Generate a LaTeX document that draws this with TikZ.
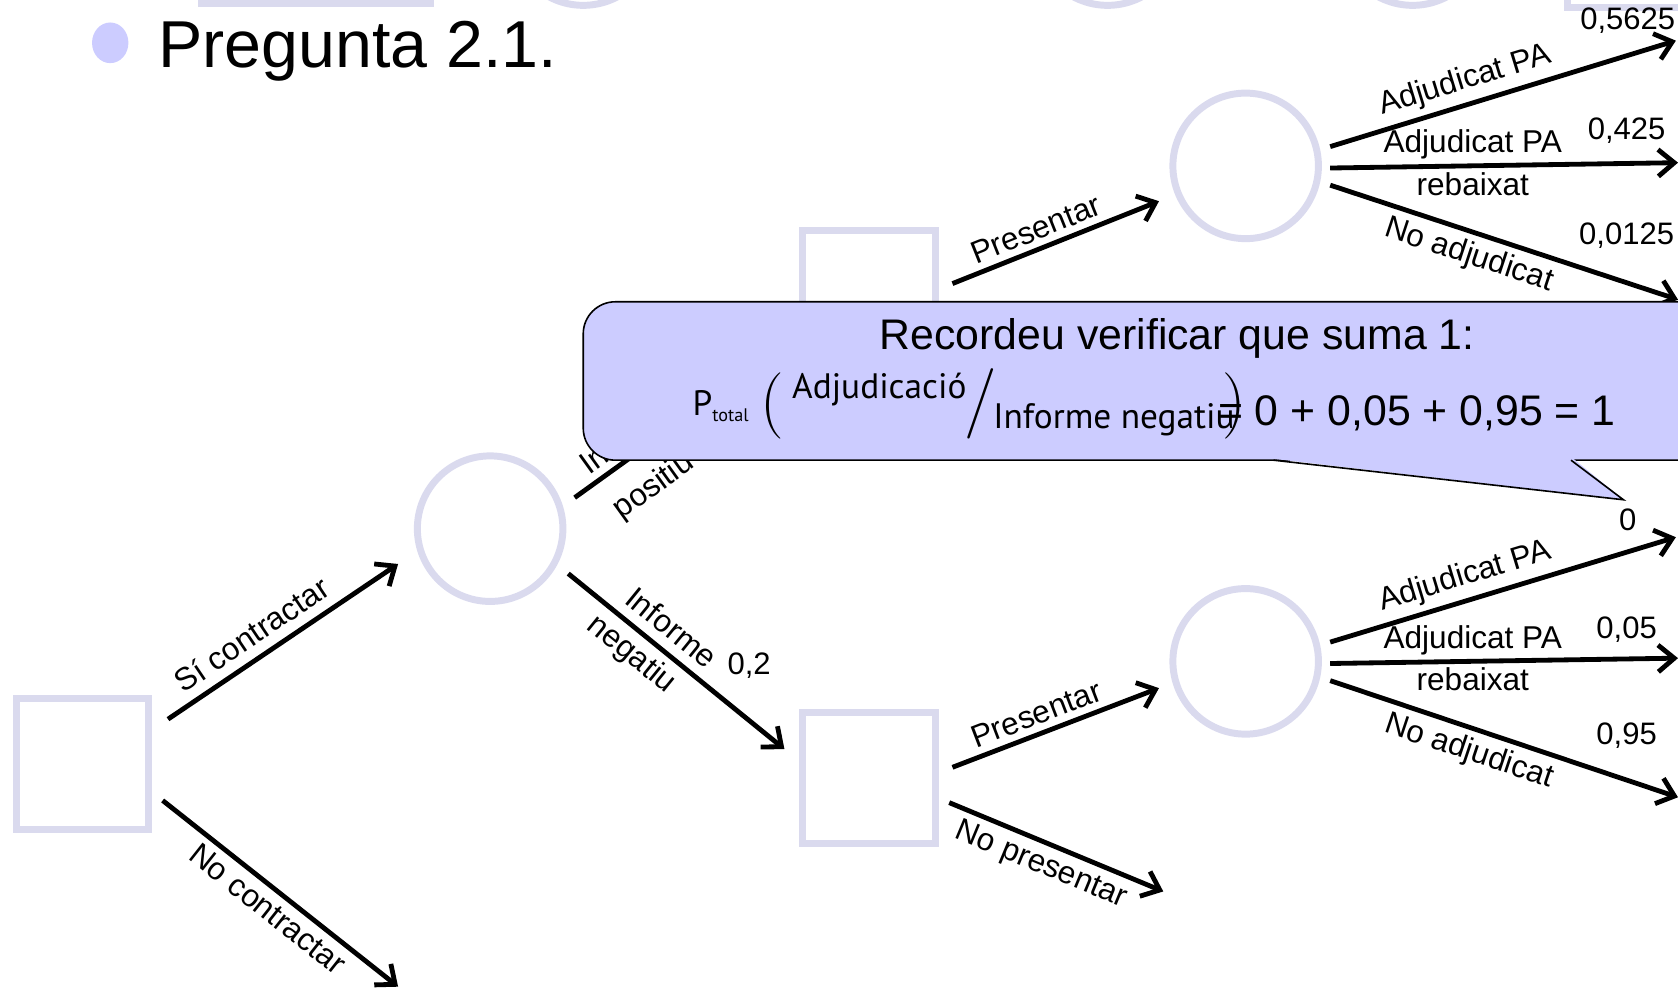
\documentclass[tikz,border=0pt]{standalone}
\usepackage{fontspec}
\setmainfont{Liberation Sans}
\newfontfamily\eqfont{PT Sans}
\newfontfamily\lmfont{Latin Modern Roman}
\usetikzlibrary{arrows.meta,shapes.geometric}
\definecolor{shapec}{RGB}{218,218,238}
\definecolor{bulletc}{RGB}{204,204,255}
\definecolor{calloutc}{RGB}{204,204,255}
\begin{document}
\begin{tikzpicture}[x=1bp,y=-1bp,
  dec/.style={draw=shapec, line width=6.5bp, minimum width=124bp, minimum height=122bp, inner sep=0pt},
  chance/.style={draw=shapec, circle, line width=6.5bp, minimum size=136bp, inner sep=0pt},
  br/.style={line width=4.5bp, -{Straight Barb[length=15bp,width=25bp]}},
  lab/.style={font=\fontsize{29.5bp}{33bp}\selectfont, inner sep=6bp},
  num/.style={font=\fontsize{29bp}{33bp}\selectfont, inner sep=0pt},
  eq/.style={font=\eqfont\fontsize{33bp}{36bp}\selectfont, inner sep=0pt, anchor=base west},
  paren/.style={font=\lmfont\fontsize{62bp}{62bp}\selectfont, inner sep=0pt},
]
\useasboundingbox (0,0) rectangle (1568,927);

% cut-off shapes at the top edge
\node[draw=shapec, line width=6.5bp, minimum width=214bp, minimum height=100bp, inner sep=0pt] (topA) at (295,-47) {};
\node[chance] (topB) at (545,-63) {};
\node[chance] (topC) at (1035,-63) {};
\node[chance] (topD) at (1320,-63) {};
\node[draw=shapec, line width=6.5bp, minimum width=140bp, minimum height=100bp, inner sep=0pt] (topE) at (1535,-43) {};

% title
\node[ellipse, fill=bulletc, minimum width=34bp, minimum height=38bp, inner sep=0pt] (bullet) at (103,40) {};
\node[anchor=base west, inner sep=0pt, font=\fontsize{62bp}{68bp}\selectfont] (title) at (148,63) {Pregunta 2.1.};

% tree nodes
\node[dec] (r0) at (77,714) {};
\node[chance] (c1) at (458,494) {};
\node[dec] (d2) at (812,276) {};
\node[dec] (d3) at (812,727) {};
\node[chance] (c2) at (1164,155) {};
\node[chance] (c3) at (1164,618) {};

% connector ends
\coordinate (sc-s) at (157,672);  \coordinate (sc-e) at (372,527);
\coordinate (nc-s) at (152,748);  \coordinate (nc-e) at (372,922);
\coordinate (ip-s) at (537,465);  \coordinate (ip-e) at (736,322);
\coordinate (in-s) at (531,536);  \coordinate (in-e) at (733,700);
\coordinate (p2-s) at (890,265);  \coordinate (p2-e) at (1083,188);
\coordinate (p3-s) at (890,717);  \coordinate (p3-e) at (1083,643);
\coordinate (np3-s) at (887,750); \coordinate (np3-e) at (1087,833);
\coordinate (a1-s) at (1243,137); \coordinate (a1-e) at (1566,38);
\coordinate (b1-s) at (1243,157); \coordinate (b1-e) at (1568,152);
\coordinate (n1-s) at (1243,173); \coordinate (n1-e) at (1568,280);
\coordinate (a2-s) at (1243,600); \coordinate (a2-e) at (1566,502);
\coordinate (b2-s) at (1243,620); \coordinate (b2-e) at (1568,615);
\coordinate (n2-s) at (1243,636); \coordinate (n2-e) at (1568,745);

% connectors
\draw[br] (sc-s) -- node[lab, pos=0.42, above, sloped, inner sep=9bp] {Sí contractar} (sc-e);
\draw[br] (nc-s) -- node[lab, pos=0.5, below, sloped] {No contractar} (nc-e);
\draw[br] (ip-s) -- node[lab, pos=0.3, above, sloped] {Informe} node[lab, pos=0.27, below, sloped, inner sep=19bp] {positiu} (ip-e);
\draw[br] (in-s) -- node[lab, pos=0.41, above, sloped, inner sep=9bp] {Informe} node[lab, pos=0.36, below, sloped] {negatiu} (in-e);
\draw[br] (p2-s) -- node[lab, pos=0.44, above, sloped] {Presentar} (p2-e);
\draw[br] (p3-s) -- node[lab, pos=0.44, above, sloped] {Presentar} (p3-e);
\draw[br] (np3-s) -- node[lab, pos=0.47, below, sloped] {No presentar} (np3-e);
\draw[br] (a1-s) -- node[lab, pos=0.41, above, sloped] {Adjudicat PA} (a1-e);
\draw[br] (b1-s) -- node[lab, pos=0.41, above, inner sep=4bp] {Adjudicat PA} node[lab, pos=0.41, below, inner sep=4bp] {rebaixat} (b1-e);
\draw[br] (n1-s) -- node[lab, pos=0.42, below, sloped] {No adjudicat} (n1-e);
\draw[br] (a2-s) -- node[lab, pos=0.41, above, sloped] {Adjudicat PA} (a2-e);
\draw[br] (b2-s) -- node[lab, pos=0.41, above, inner sep=4bp] {Adjudicat PA} node[lab, pos=0.41, below, inner sep=4bp] {rebaixat} (b2-e);
\draw[br] (n2-s) -- node[lab, pos=0.42, below, sloped] {No adjudicat} (n2-e);

% probabilities
\node[num] (q02) at (700,622) {0,2};
\node[num] (q1a) at (1521,19) {0,5625};
\node[num] (q1b) at (1520,122) {0,425};
\node[num] (q1c) at (1520,220) {0,0125};
\node[num] (q2a) at (1521,486) {0};
\node[num] (q2b) at (1520,588) {0,05};
\node[num] (q2c) at (1520,687) {0,95};

% callout
\node[draw=black, line width=1.5bp, fill=calloutc, rounded corners=30bp, minimum width=1100bp, minimum height=148bp, inner sep=0pt] (note) at (1095,356) {};
\fill[calloutc] (1188,428.5) -- (1517,467) -- (1470,428.5) -- cycle;
\coordinate (tail-a) at (1190,430); \coordinate (tail-t) at (1517,467); \coordinate (tail-b) at (1468,430);
\draw[line width=1.5bp, line join=miter] (tail-a) -- (tail-t) -- (tail-b);

\node[font=\fontsize{40bp}{44bp}\selectfont, inner sep=0pt] (note1) at (1100,316) {Recordeu verificar que suma 1:};
\node[eq] (eqP) at (647,388) {P\raisebox{-6bp}{\fontsize{17bp}{17bp}\selectfont total}};
\node[paren] (eqL) at (722,379) {(};
\node[eq] (eqA) at (740,372) {Adjudicació};
\node[paren, font=\lmfont\fontsize{66bp}{66bp}\selectfont] (eqS) at (916,377) {/};
\node[eq] (eqI) at (928,400) {Informe negatiu};
\node[paren] (eqR) at (1153,379) {)};
\node[anchor=base west, inner sep=0pt, font=\fontsize{40bp}{44bp}\selectfont] (eqV) at (1138,398) {= 0 + 0,05 + 0,95 = 1};
\end{tikzpicture}
\end{document}
